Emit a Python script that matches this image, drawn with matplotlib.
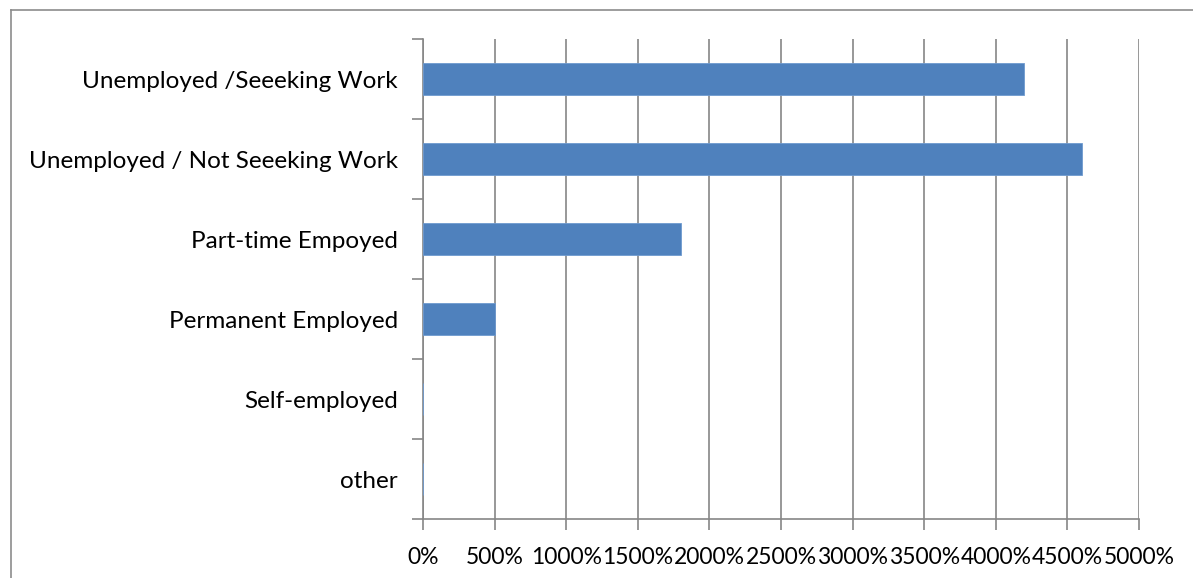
import matplotlib.pyplot as plt
from matplotlib.lines import Line2D
import numpy as np

categories = [
    "Unemployed /Seeeking Work",
    "Unemployed / Not Seeeking Work",
    "Part-time Empoyed",
    "Permanent Employed",
    "Self-employed",
    "other",
]
values = [4200, 4600, 1800, 500, 0, 0]
xticks = list(range(0, 5001, 500))
xtick_labels = [f"{t}%" for t in xticks]

W, H = 1193, 578
fig = plt.figure(figsize=(W / 100, H / 100), dpi=100)
fig.patch.set_facecolor("white")
ax = fig.add_axes([423 / W, 1 - 519 / H, (1139 - 423) / W, (519 - 39) / H])

grid_c = "#868686"
n = len(categories)
pos = np.arange(n)[::-1]
ax.barh(pos, values, height=0.4, color="#4F81BD", edgecolor="#6F9ACF", linewidth=0.6, zorder=3)

ax.set_xlim(0, 5000)
ax.set_ylim(-0.5, n - 0.5)
ax.set_xticks(xticks)
ax.set_xticklabels(xtick_labels)
ax.set_yticks(pos)
ax.set_yticklabels(categories)
ax.set_yticks(np.arange(-0.5, n, 1.0), minor=True)
ax.xaxis.grid(True, color=grid_c, linewidth=1.2, zorder=0)

for s in ["top", "right"]:
    ax.spines[s].set_visible(False)
for s in ["left", "bottom"]:
    ax.spines[s].set_color(grid_c)
    ax.spines[s].set_linewidth(1.2)

ax.tick_params(axis="y", which="major", length=0, pad=18, labelsize=17.5)
ax.tick_params(axis="y", which="minor", length=8, color=grid_c, width=1.2)
ax.tick_params(axis="x", length=8, color=grid_c, width=1.2, pad=12, labelsize=16.5)
for lab in ax.get_xticklabels() + ax.get_yticklabels():
    lab.set_fontfamily(["Lato", "DejaVu Sans"])

# outer chart border (top and left visible)
fig.add_artist(Line2D([11 / W, 11 / W], [0, 1 - 10 / H], color="#8c8c8c", linewidth=1.2, transform=fig.transFigure))
fig.add_artist(Line2D([11 / W, 1], [1 - 10 / H, 1 - 10 / H], color="#8c8c8c", linewidth=1.2, transform=fig.transFigure))

fig.savefig("out.png", dpi=100)
